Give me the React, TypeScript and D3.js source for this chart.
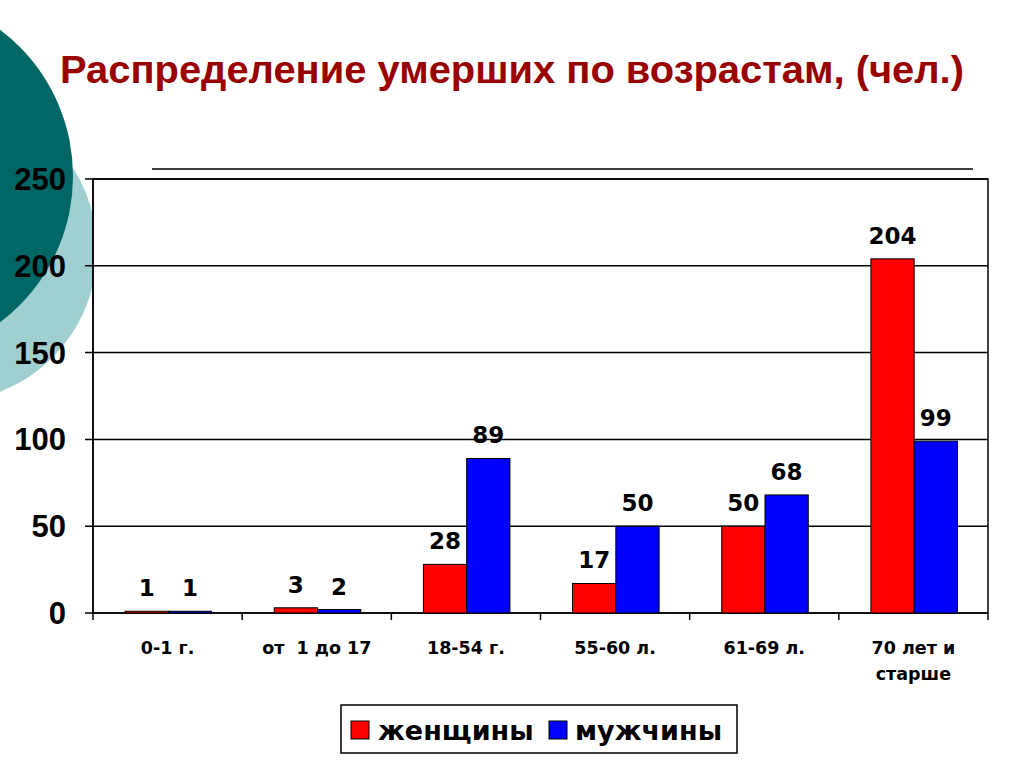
import React from "react";
import * as d3 from "d3";

const categories = ["0-1 г.", "от  1 до 17", "18-54 г.", "55-60 л.", "61-69 л.", "70 лет и|старше"];
const women = [1, 3, 28, 17, 50, 204];
const men = [1, 2, 89, 50, 68, 99];
const yTicks = [0, 50, 100, 150, 200, 250];
const seriesNames = ["женщины", "мужчины"];

export default function App() {
  const W = 1024, H = 767;
  const left = 93, right = 988, top = 179, bottom = 613;
  const x = d3.scaleBand<string>().domain(categories).range([left, right]).paddingInner(0).paddingOuter(0);
  const y = d3.scaleLinear().domain([0, 250]).range([bottom, top]);
  const bw = x.bandwidth();
  const barW = bw * 0.29;
  const off = bw * 0.215;
  const font = "Arial, 'Liberation Sans', sans-serif";
  const vfont = "'DejaVu Sans', Verdana, sans-serif";
  return (
    <svg width={W} height={H} style={{ position: "absolute", left: 0, top: 0, background: "#fff" }}>
      <circle cx={-55} cy={250} r={152} fill="#9fcfd0" />
      <circle cx={-110} cy={176} r={183} fill="#006666" />
      <text x={512} y={83} textAnchor="middle" fontFamily={font} fontWeight="bold" fontSize={38} fill="#990000" textLength={904} lengthAdjust="spacingAndGlyphs">
        Распределение умерших по возрастам, (чел.)
      </text>
      <line x1={152} x2={973} y1={169} y2={169} stroke="#000" strokeWidth={1.5} />
      <rect x={left} y={top} width={right - left} height={bottom - top} fill="#fff" stroke="#000" strokeWidth={1.5} />
      {yTicks.map((t) => (
        <g key={t}>
          <line x1={left - 8} x2={right} y1={y(t)} y2={y(t)} stroke="#000" strokeWidth={1.5} />
          <text x={66} y={y(t) + 11} textAnchor="end" fontFamily={font} fontWeight="bold" fontSize={31} fill="#000">{t}</text>
        </g>
      ))}
      <line x1={left} x2={left} y1={top} y2={bottom + 7} stroke="#000" strokeWidth={1.5} />
      {categories.map((c, i) => (
        <line key={"t" + i} x1={(x(c) as number) + bw} x2={(x(c) as number) + bw} y1={bottom} y2={bottom + 7} stroke="#000" strokeWidth={1.5} />
      ))}
      {categories.map((c, i) => {
        const x0 = (x(c) as number) + off;
        const x1 = x0 + barW;
        return (
          <g key={c}>
            <rect x={x0} y={y(women[i])} width={barW} height={bottom - y(women[i])} fill="#ff0000" stroke="#000" strokeWidth={1} />
            <rect x={x1} y={y(men[i])} width={barW} height={bottom - y(men[i])} fill="#0000ff" stroke="#000" strokeWidth={1} />
            <text x={x0 + barW / 2} y={y(women[i]) - 15} textAnchor="middle" fontFamily={vfont} fontWeight="bold" fontSize={23}>{women[i]}</text>
            <text x={x1 + barW / 2} y={y(men[i]) - 15} textAnchor="middle" fontFamily={vfont} fontWeight="bold" fontSize={23}>{men[i]}</text>
            {c.split("|").map((ln, k) => (
              <text key={k} x={(x(c) as number) + bw / 2} y={654 + k * 26} textAnchor="middle" fontFamily={vfont} fontWeight="bold" fontSize={17.5} xmlSpace="preserve">{ln}</text>
            ))}
          </g>
        );
      })}
      <rect x={341} y={705} width={396} height={48} fill="#fff" stroke="#000" strokeWidth={1.5} />
      <rect x={351} y={721} width={18} height={18} fill="#ff0000" stroke="#000" strokeWidth={1} />
      <text x={378} y={740} fontFamily={vfont} fontWeight="bold" fontSize={27}>{seriesNames[0]}</text>
      <rect x={549} y={721} width={18} height={18} fill="#0000ff" stroke="#000" strokeWidth={1} />
      <text x={575} y={740} fontFamily={vfont} fontWeight="bold" fontSize={27}>{seriesNames[1]}</text>
    </svg>
  );
}
